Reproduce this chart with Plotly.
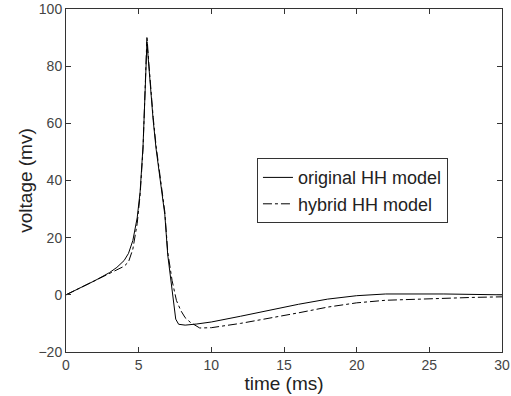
import plotly.graph_objects as go

# original HH model
t_orig = [0, 1, 2, 3, 3.5, 4, 4.3, 4.6, 4.9, 5.1, 5.3, 5.45, 5.57, 5.7, 5.85, 6.0, 6.2, 6.5, 6.8,
          7.0, 7.2, 7.4, 7.55, 7.75, 8.2, 9, 10, 12, 14, 16, 18, 20, 22, 26, 30]
v_orig = [0, 2.5, 5, 7.8, 9.6, 12, 14.5, 19, 27, 36, 52, 72, 88.5, 80, 70, 61, 51, 40, 28,
          14, 5, -3, -8.5, -10.3, -10.6, -10.2, -9.5, -7.5, -5.3, -3.3, -1.5, -0.3, 0.3, 0.3, 0]

# hybrid HH model
t_hyb = [0, 1, 2, 3, 3.5, 4, 4.3, 4.6, 4.9, 5.1, 5.3, 5.45, 5.57, 5.7, 5.85, 6.0, 6.2, 6.5, 6.8,
         7.0, 7.3, 7.6, 7.9, 8.2, 8.55, 9.2, 10, 12, 14, 16, 18, 20, 22, 25, 28, 30]
v_hyb = [0, 2.5, 5, 7.5, 8.8, 10, 11.5, 16, 25, 35, 51, 72, 90.5, 81, 71, 62, 52, 41, 29,
         15, 5, -2, -5.5, -8, -9.6, -11.6, -11.5, -10, -8.2, -6.3, -4.3, -2.8, -1.9, -1.3, -0.9, -0.7]

x_ticks = [0, 5, 10, 15, 20, 25, 30]
y_ticks = [-20, 0, 20, 40, 60, 80, 100]

FONT = "Liberation Sans, Arial, sans-serif"

fig = go.Figure()
fig.add_trace(go.Scatter(x=t_orig, y=v_orig, mode="lines", name="original HH model",
                         line=dict(color="black", width=1, dash="solid")))
fig.add_trace(go.Scatter(x=t_hyb, y=v_hyb, mode="lines", name="hybrid HH model",
                         line=dict(color="black", width=1, dash="dashdot")))

axis_common = dict(showgrid=False, zeroline=False, showline=True, linecolor="#333",
                   linewidth=1, mirror="allticks", ticks="inside", ticklen=5,
                   tickcolor="#333", automargin=False,
                   tickfont=dict(size=14, color="#444", family=FONT))

fig.update_xaxes(range=[0, 30], tickvals=x_ticks,
                 title=dict(text="time (ms)", font=dict(size=19, color="#222", family=FONT),
                            standoff=0),
                 **axis_common)
fig.update_yaxes(range=[-20, 100], tickvals=y_ticks,
                 title=dict(text="voltage (mv)", font=dict(size=19, color="#222", family=FONT),
                            standoff=0),
                 **axis_common)

fig.update_layout(
    width=511, height=396,
    margin=dict(l=66, r=9, t=9, b=44),
    paper_bgcolor="white", plot_bgcolor="white",
    showlegend=True,
    legend=dict(x=0.438, y=0.565, xanchor="left", yanchor="top",
                bgcolor="white", bordercolor="#333", borderwidth=1,
                font=dict(size=18, color="#222", family=FONT),
                tracegroupgap=0, itemwidth=30),
)

fig.write_html("out.html",
               config={"displayModeBar": False},
               post_script="document.body.style.margin='0';document.body.style.overflow='hidden';")
